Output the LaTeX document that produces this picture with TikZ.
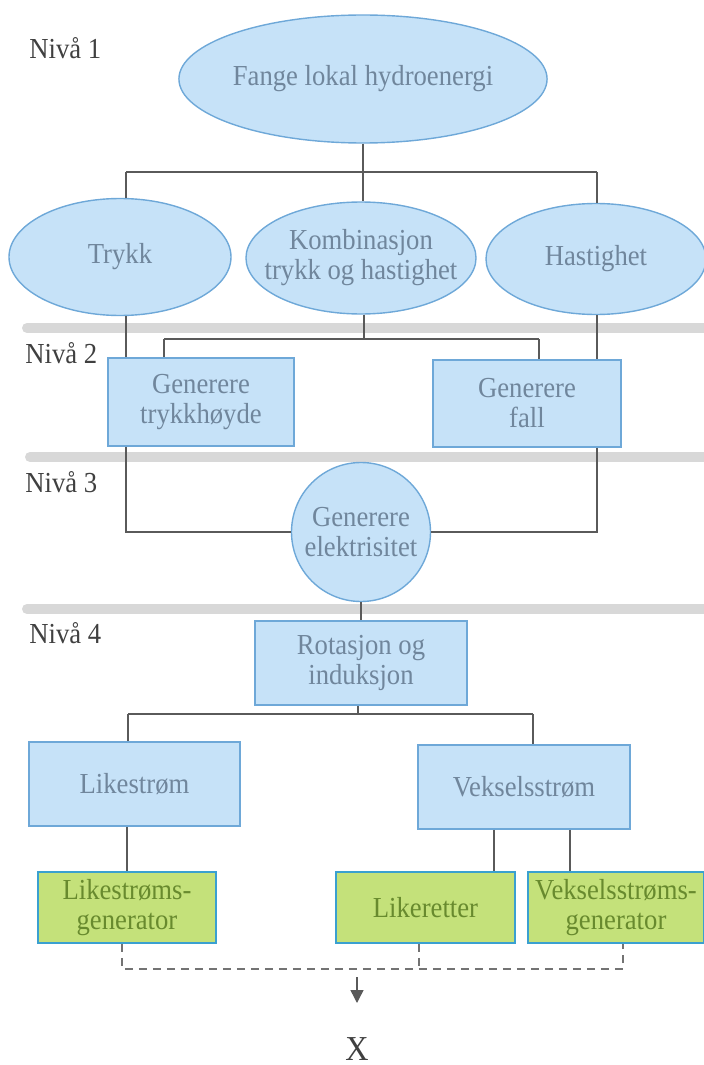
\documentclass[tikz,border=0pt]{standalone}
\usepackage{fontspec}
\setmainfont[FakeStretch=0.92]{Liberation Serif}
\usetikzlibrary{shapes.geometric, arrows.meta}

\definecolor{nodefill}{RGB}{198,226,248}
\definecolor{nodeline}{RGB}{110,168,216}
\definecolor{nodetext}{RGB}{112,134,156}
\definecolor{genfill}{RGB}{196,225,122}
\definecolor{genline}{RGB}{58,160,208}
\definecolor{gentext}{RGB}{104,138,46}
\definecolor{linkgray}{RGB}{90,90,90}
\definecolor{bandgray}{RGB}{216,216,216}

\begin{document}
\begin{tikzpicture}[x=0.5pt, y=-0.5pt,
	txt/.style={font=\fontsize{14.5}{15}\selectfont, align=center},
	oval/.style={ellipse, draw=nodeline, fill=nodefill, text=nodetext, line width=0.7pt, inner sep=0pt, txt},
	box/.style={rectangle, draw=nodeline, fill=nodefill, text=nodetext, line width=0.8pt, inner sep=2pt, txt},
	genbox/.style={rectangle, draw=genline, fill=genfill, text=gentext, line width=0.8pt, inner sep=2pt, txt},
	nivaa/.style={anchor=west, inner sep=0pt, text=black!75, txt},
	link/.style={draw=linkgray, line width=0.7pt},
	dashlink/.style={draw=black!55, line width=0.8pt, dash pattern=on 4pt off 3pt},
	band/.style={draw=bandgray, line width=5pt, line cap=round}]
	\useasboundingbox (0,0) rectangle (704,1065);
	% Grey bands between the levels
	\draw[band] (27,328) -- (720,328);
	\draw[band] (30,457) -- (720,457);
	\draw[band] (27,609) -- (720,609);

	% Level labels
	\node[nivaa] (n1) at (29,48) {Nivå 1};
	\node[nivaa] (n2) at (25,353) {Nivå 2};
	\node[nivaa] (n3) at (25,482) {Nivå 3};
	\node[nivaa] (n4) at (29,633) {Nivå 4};

	% Level 1
	\node[oval, minimum width=183pt, minimum height=64pt] (fange) at (363,79) {Fange lokal hydroenergi};
	\node[oval, minimum width=111pt, minimum height=58.5pt] (trykk) at (120,257) {Trykk};
	\node[oval, minimum width=114.5pt, minimum height=56pt, inner xsep=-7.5pt] (komb) at (361,258) {Kombinasjon\\trykk og hastighet};
	\node[oval, minimum width=110pt, minimum height=55.5pt] (hast) at (596,259) {Hastighet};

	% Level 2
	\node[box, minimum width=93pt, minimum height=44pt] (gtrykk) at (201,402) {Generere\\trykkhøyde};
	\node[box, minimum width=94pt, minimum height=43.5pt] (gfall) at (527,403.5) {Generere\\fall};

	% Level 3
	\node[oval, circle, minimum size=69.5pt] (elek) at (361,532) {Generere\\elektrisitet};

	% Level 4
	\node[box, minimum width=106pt, minimum height=42pt] (rot) at (361,663) {Rotasjon og\\induksjon};
	\node[box, minimum width=105.5pt, minimum height=42pt] (like) at (134.5,784) {Likestrøm};
	\node[box, minimum width=106pt, minimum height=42pt] (veks) at (524,787) {Vekselsstrøm};
	\node[genbox, minimum width=89pt, minimum height=35.5pt] (lgen) at (127,907.5) {Likestrøms-\\generator};
	\node[genbox, minimum width=89.5pt, minimum height=35.5pt] (lrett) at (425.5,907.5) {Likeretter};
	\node[genbox, minimum width=88pt, minimum height=35.5pt] (vgen) at (616,907.5) {Vekselsstrøms-\\generator};
	\node[font=\fontsize{17.5}{18}\selectfont, text=black!75, inner sep=0pt] (x) at (357,1049) {X};

	% Junction points
	\coordinate (j1) at (126,172);
	\coordinate (j2) at (363,172);
	\coordinate (j3) at (597,172);
	\coordinate (k1) at (164,339);
	\coordinate (k2) at (364,339);
	\coordinate (k3) at (539,339);
	\coordinate (m1) at (128,714);
	\coordinate (m2) at (358,714);
	\coordinate (m3) at (533,714);
	\coordinate (v1) at (494,0);
	\coordinate (v2) at (570,0);
	\coordinate (d1) at (122,969);
	\coordinate (d2) at (419,969);
	\coordinate (d3) at (623,969);
	\coordinate (a1) at (357,977);
	\coordinate (a2) at (357,1003);

	% Connections
	\draw[link] (fange.south -| j2) -- (j2);
	\draw[link] (j1) -- (j3);
	\draw[link] (j1) -- (trykk.north -| j1);
	\draw[link] (j2) -- (komb.north -| j2);
	\draw[link] (j3) -- (hast.north -| j3);
	\draw[link] (trykk.south -| j1) -- (gtrykk.north -| j1);
	\draw[link] (komb.south -| k2) -- (k2);
	\draw[link] (k1) -- (k3);
	\draw[link] (k1) -- (gtrykk.north -| k1);
	\draw[link] (k3) -- (gfall.north -| k3);
	\draw[link] (hast.south -| j3) -- (gfall.north -| j3);
	\draw[link] (gtrykk.south -| j1) |- (elek.west);
	\draw[link] (gfall.south -| j3) |- (elek.east);
	\draw[link] (elek.south) -- (rot.north);
	\draw[link] (rot.south -| m2) -- (m2);
	\draw[link] (m1) -- (m3);
	\draw[link] (m1) -- (like.north -| m1);
	\draw[link] (m3) -- (veks.north -| m3);
	\draw[link] (like.south -| lgen.north) -- (lgen.north);
	\draw[link] (veks.south -| v1) -- (lrett.north -| v1);
	\draw[link] (veks.south -| v2) -- (vgen.north -| v2);
	\draw[dashlink] (lgen.south -| d1) -- (d1) -- (d3) -- (vgen.south -| d3);
	\draw[dashlink] (lrett.south -| d2) -- (d2);
	\draw[link, -{Triangle[length=6.5pt, width=6.5pt]}] (a1) -- (a2);
\end{tikzpicture}
\end{document}
